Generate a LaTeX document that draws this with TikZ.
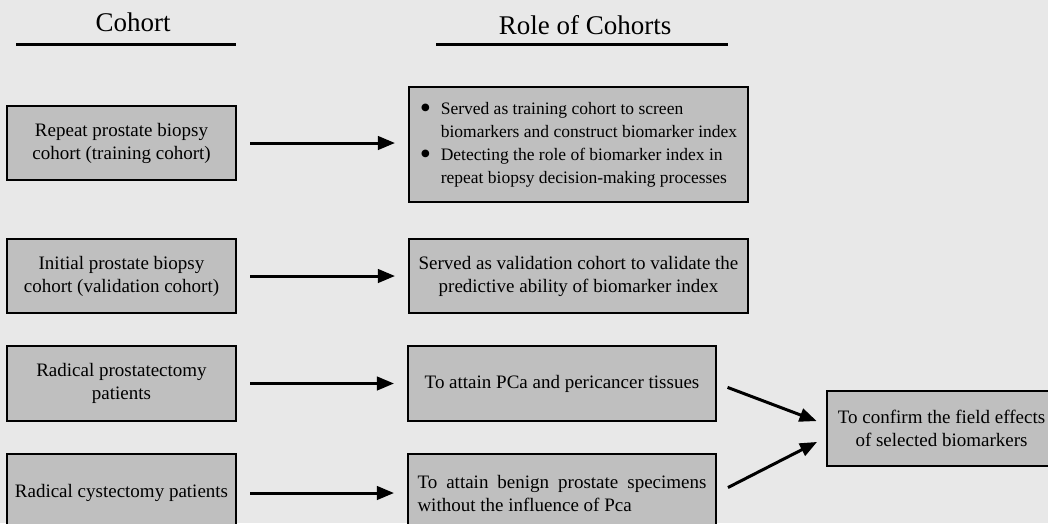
\documentclass[tikz,border=0pt]{standalone}
\usepackage{fontspec}
\setmainfont{Liberation Serif}
\usetikzlibrary{arrows}
\definecolor{ebebeb}{rgb}{0.91,0.91,0.91}
\definecolor{c0c0c0}{rgb}{0.75,0.75,0.75}
\newcommand{\blt}{\makebox[21pt][l]{\raisebox{-4.5pt}{\fontsize{32}{23}\selectfont\textbullet}}}
\newcommand{\nob}{\makebox[21pt][l]{}}
\begin{document}
\begin{tikzpicture}[line join=miter,>=triangle 45,x=1pt,y=-1pt,
  box/.style={draw=black,line width=2.5pt,fill=c0c0c0,inner sep=0pt,align=center,
    font=\fontsize{19}{23}\selectfont},
  link/.style={->,line width=3pt},
  head/.style={font=\fontsize{27}{30}\selectfont}]
\useasboundingbox (0,0) rectangle (1048,523);
\clip (0,0) rectangle (1048,523);
\fill[ebebeb] (0,0) rectangle (1048,523);
% headings
\node[head] (hcoh) at (133,22) {Cohort};
\node[head] (hrole) at (585,25) {Role of Cohorts};
\draw[line width=3pt] (16,44) -- (236,44);
\draw[line width=3pt] (436,44) -- (728,44);
% cohorts
\node[box,minimum width=229pt,minimum height=74pt] (c1) at (121.5,143) {Repeat prostate biopsy\\cohort (training cohort)};
\node[box,minimum width=229pt,minimum height=74pt] (c2) at (121.5,276) {Initial prostate biopsy\\cohort (validation cohort)};
\node[box,minimum width=229pt,minimum height=75pt] (c3) at (121.5,383.5) {Radical prostatectomy\\patients};
\node[box,minimum width=229pt,minimum height=78pt] (c4) at (121.5,493) {Radical cystectomy patients};
% roles
\node[box,align=left,minimum width=339pt,minimum height=115pt,font=\fontsize{17.5}{23}\selectfont] (r1) at (578.5,144.5)
  {\blt Served as training cohort to screen\\
   \nob biomarkers and construct biomarker index\hspace*{16pt}\\
   \blt Detecting the role of biomarker index in\\
   \nob repeat biopsy decision-making processes};
\node[box,minimum width=339pt,minimum height=74pt] (r2) at (578.5,276) {Served as validation cohort to validate the\\predictive ability of biomarker index};
\node[box,minimum width=308pt,minimum height=75pt] (r3) at (562,383.5) {To attain PCa and pericancer tissues};
\node[box,align=left,minimum width=308pt,minimum height=78pt] (r4) at (562,493)
  {\makebox[289pt][s]{To attain benign prostate specimens}\\without the influence of Pca};
\node[box,minimum width=229pt,minimum height=75pt] (fin) at (941.5,428.5) {To confirm the field effects\\of selected biomarkers};
% arrows
\draw[link,shorten <=13pt,shorten >=13pt] (c1.east) -- (r1.west |- c1.east);
\draw[link,shorten <=13pt,shorten >=13pt] (c2.east) -- (r2.west |- c2.east);
\draw[link,shorten <=13pt,shorten >=13pt] (c3.east) -- (r3.west |- c3.east);
\draw[link,shorten <=13pt,shorten >=13pt] (c4.east) -- (r4.west |- c4.east);
\draw[link,shorten <=11pt,shorten >=10pt] (r3.east) -- ([yshift=4pt]fin.west);
\draw[link,shorten <=12pt,shorten >=10pt] (r4.east) -- ([yshift=-9pt]fin.west);
\end{tikzpicture}
\end{document}
